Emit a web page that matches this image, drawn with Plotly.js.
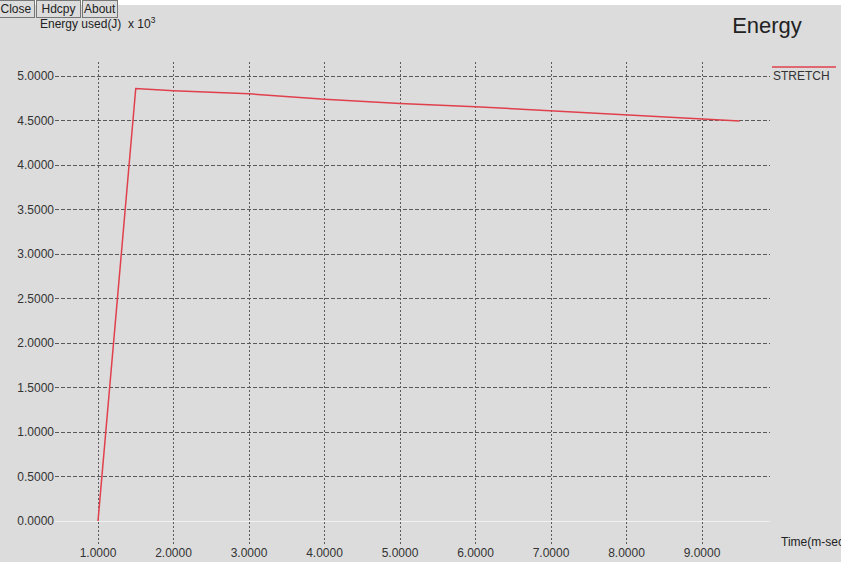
<!DOCTYPE html>
<html>
<head>
<meta charset="utf-8">
<script src="https://cdn.plot.ly/plotly-3.0.1.min.js"></script>
<style>html,body{margin:0;padding:0;background:#dcdcdc;} #chart{width:841px;height:562px;}</style>
</head>
<body>
<div id="chart"></div>
<script>
// Data
var seriesName = "STRETCH";
var timeValues = [1.0, 1.5, 2.0, 3.0, 4.0, 5.0, 6.0, 7.0, 8.0, 9.0, 9.5];
var energyValues = [0.0, 4.86, 4.835, 4.80, 4.74, 4.69, 4.655, 4.61, 4.57, 4.525, 4.495];
var xTicks = [1, 2, 3, 4, 5, 6, 7, 8, 9];
var xTickText = ["1.0000", "2.0000", "3.0000", "4.0000", "5.0000", "6.0000", "7.0000", "8.0000", "9.0000"];
var yTicks = [0, 0.5, 1.0, 1.5, 2.0, 2.5, 3.0, 3.5, 4.0, 4.5, 5.0];
var yTickText = ["0.0000", "0.5000", "1.0000", "1.5000", "2.0000", "2.5000", "3.0000", "3.5000", "4.0000", "4.5000", "5.0000"];
var chartTitle = "Energy";
var yLabel = "Energy used(J)  x 10<sup>3</sup>";
var xLabel = "Time(m-sec)";
var buttons = ["Close", "Hdcpy", "About"];

var W = 841, H = 562, L = 55, R = 71, T = 62, B = 18;
var PH = H - T - B, PW = W - L - R;
function px(x) { return (x - L) / PW; }
function py(y) { return (H - B - y) / PH; }

var font = "Liberation Sans, Arial, sans-serif";
var btnLeft = [-3, 36, 82];
var btnWidth = [36, 43, 34];
var annotations = buttons.map(function (b, i) {
  return {text: b, xref: "paper", yref: "paper", x: px(btnLeft[i]), y: py(9.5), xanchor: "left", yanchor: "middle",
    width: btnWidth[i], height: 16, align: "center",
    showarrow: false, font: {family: font, size: 12, color: "#222"}, bordercolor: "#777", borderwidth: 1, borderpad: 0, bgcolor: "#dcdcdc"};
});
annotations.push({text: yLabel, xref: "paper", yref: "paper", x: px(38), y: py(23), xanchor: "left", yanchor: "middle",
  showarrow: false, font: {family: font, size: 12, color: "#222"}});
annotations.push({text: seriesName, xref: "paper", yref: "paper", x: px(771), y: py(76), xanchor: "left", yanchor: "middle",
  showarrow: false, font: {family: font, size: 12, color: "#333"}});
annotations.push({text: xLabel, xref: "paper", yref: "paper", x: px(779), y: py(542), xanchor: "left", yanchor: "middle",
  showarrow: false, font: {family: font, size: 12, color: "#222"}});

var trace = {x: timeValues, y: energyValues, type: "scatter", mode: "lines", name: seriesName,
  line: {color: "#e0404c", width: 1.5}, showlegend: false};

var layout = {
  width: W, height: H,
  margin: {l: L, r: R, t: T, b: B},
  paper_bgcolor: "#dcdcdc", plot_bgcolor: "#dcdcdc",
  showlegend: false,
  title: {text: chartTitle, font: {family: font, size: 22, color: "#222"}, xref: "container", yref: "container",
    x: 767 / W, xanchor: "center", y: 1 - 25 / H, yanchor: "middle"},
  xaxis: {range: [1 - (98 - L) / 75.5, 1 + (W - R - 98) / 75.5], tickvals: xTicks, ticktext: xTickText,
    showgrid: true, gridcolor: "#5a5a5a", griddash: "2px,2px", gridwidth: 1, zeroline: false, showline: false,
    ticks: "", tickfont: {family: font, size: 12, color: "#333"}, fixedrange: true},
  yaxis: {range: [(521 - (H - B)) / 89, (521 - T) / 89], tickvals: yTicks, ticktext: yTickText,
    showgrid: true, gridcolor: "#5a5a5a", griddash: "4px,2px", gridwidth: 1, zeroline: true, zerolinecolor: "#efefef", zerolinewidth: 1,
    showline: false, ticks: "", tickfont: {family: font, size: 12, color: "#333"}, fixedrange: true},
  shapes: [
    {type: "rect", xref: "paper", yref: "paper", x0: px(0), x1: px(W), y0: py(5), y1: py(0), fillcolor: "#ffffff", line: {width: 0}, layer: "below"},
    {type: "line", xref: "paper", yref: "paper", x0: px(772), x1: px(836), y0: py(67), y1: py(67), line: {color: "#e0404c", width: 1.5}}
  ],
  annotations: annotations
};
Plotly.newPlot("chart", [trace], layout, {displayModeBar: false, staticPlot: true});
</script>
</body>
</html>
